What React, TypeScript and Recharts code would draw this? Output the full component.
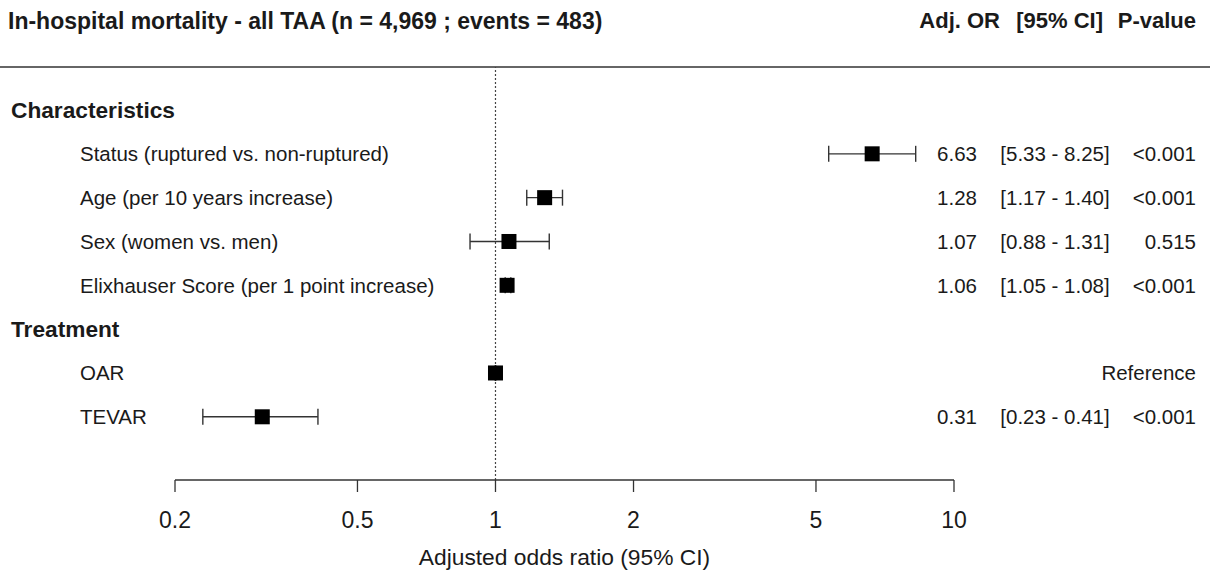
import React from "react"
import {
  ScatterChart,
  Scatter,
  XAxis,
  YAxis,
  ErrorBar,
  ReferenceLine,
} from "recharts"

const rowLabels = [
  "Characteristics",
  "Status (ruptured vs. non-ruptured)",
  "Age (per 10 years increase)",
  "Sex (women vs. men)",
  "Elixhauser Score (per 1 point increase)",
  "Treatment",
  "OAR",
  "TEVAR",
]
const isHeader = [true, false, false, false, false, true, false, false]
const oddsRatio: (number | null)[] = [null, 6.63, 1.28, 1.07, 1.06, null, 1, 0.31]
const ciLow: (number | null)[] = [null, 5.33, 1.17, 0.88, 1.05, null, null, 0.23]
const ciHigh: (number | null)[] = [null, 8.25, 1.4, 1.31, 1.08, null, null, 0.41]
const pValues: (string | null)[] = [null, "<0.001", "<0.001", "0.515", "<0.001", null, "Reference", "<0.001"]
const xTicks = [0.2, 0.5, 1, 2, 5, 10]
const headerCols = ["Adj. OR", "[95% CI]", "P-value"]

const FONT = "'Liberation Sans', Arial, sans-serif"
const INK = "#1a1a1a"

const labelRows = rowLabels.map((label, i) => ({
  x: 1,
  y: i,
  label,
  header: isHeader[i],
  or: oddsRatio[i],
  lo: ciLow[i],
  hi: ciHigh[i],
  p: pValues[i],
}))

const estimateRows = oddsRatio
  .map((or, i) => ({ or, i }))
  .filter((d) => d.or !== null)
  .map(({ or, i }) => {
    const lo = ciLow[i]
    const hi = ciHigh[i]
    return {
      x: or as number,
      y: i,
      err: lo !== null && hi !== null ? [(or as number) - lo, hi - (or as number)] : [0, 0],
    }
  })

function Square(props: any) {
  const { cx, cy } = props
  return <rect x={cx - 7.5} y={cy - 7.5} width={15} height={15} fill="#000" />
}

function RowText(props: any) {
  const { cy, payload } = props
  const r = payload
  if (r.header) {
    return (
      <text x={11} y={cy} dy="0.36em" fontSize={22.7} fontWeight="bold" fill={INK} fontFamily={FONT}>
        {r.label}
      </text>
    )
  }
  const hasCi = r.lo !== null && r.hi !== null
  return (
    <g fontFamily={FONT} fontSize={20.5} fill={INK}>
      <text x={80} y={cy} dy="0.36em">{r.label}</text>
      {hasCi && (
        <text x={977} y={cy} dy="0.36em" textAnchor="end">{r.or.toFixed(2)}</text>
      )}
      {hasCi && (
        <text x={1055} y={cy} dy="0.36em" textAnchor="middle">
          {`[${r.lo.toFixed(2)} - ${r.hi.toFixed(2)}]`}
        </text>
      )}
      {r.p && (
        <text x={1196} y={cy} dy="0.36em" textAnchor="end">{r.p}</text>
      )}
    </g>
  )
}

const headerRight = [1000, 1103, 1196]

export default function App() {
  return (
    <div style={{ position: "absolute", left: 0, top: 0, width: 1210, height: 571, background: "#fff", fontFamily: FONT, overflow: "hidden" }}>
      <div style={{ position: "absolute", left: 8, top: 8, fontSize: 23, lineHeight: "26px", fontWeight: "bold", color: INK, whiteSpace: "nowrap" }}>
        In-hospital mortality - all TAA (n = 4,969 ; events = 483)
      </div>
      {headerCols.map((h, i) => (
        <div
          key={h}
          style={{ position: "absolute", right: 1210 - headerRight[i], top: 8, fontSize: 22, lineHeight: "26px", fontWeight: "bold", color: INK, whiteSpace: "nowrap" }}
        >
          {h}
        </div>
      ))}
      <div style={{ position: "absolute", left: 0, top: 66, width: 1210, height: 2, background: "#666" }} />
      <ScatterChart width={1210} height={571} margin={{ top: 67, right: 256, left: 175, bottom: 31 }}>
        <XAxis
          type="number"
          dataKey="x"
          scale="log"
          domain={[0.2, 10]}
          ticks={xTicks}
          tickFormatter={(v: number) => String(v)}
          stroke="#333"
          strokeWidth={1.3}
          tickSize={12}
          tickMargin={20}
          height={60}
          tick={{ fontSize: 23, fill: INK, fontFamily: FONT }}
        />
        <YAxis type="number" dataKey="y" domain={[-0.981, 8.442]} reversed hide />
        <ReferenceLine x={1} stroke="#444" strokeDasharray="2 2" strokeWidth={1.2} />
        <Scatter data={labelRows} shape={RowText} isAnimationActive={false} />
        <Scatter data={estimateRows} shape={Square} isAnimationActive={false}>
          <ErrorBar dataKey="err" direction="x" width={8} stroke="#333" strokeWidth={1.4} />
        </Scatter>
      </ScatterChart>
      <div style={{ position: "absolute", left: 175, width: 779, top: 544, lineHeight: "26px", textAlign: "center", fontSize: 22.8, color: INK, whiteSpace: "nowrap" }}>
        Adjusted odds ratio (95% CI)
      </div>
    </div>
  )
}
